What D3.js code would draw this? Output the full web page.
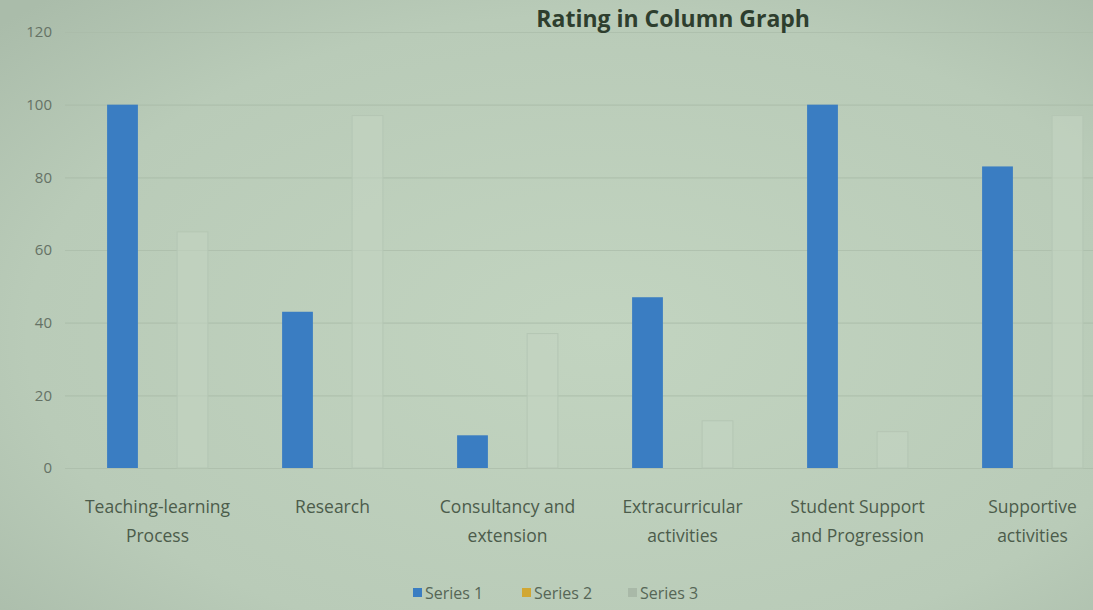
<!DOCTYPE html>
<html>
<head>
<meta charset="utf-8">
<script src="https://cdn.jsdelivr.net/npm/d3@7"></script>
<style>
html,body{margin:0;padding:0;background:#bccebb;}
svg{display:block;}
</style>
</head>
<body>
<svg id="chart" width="1093" height="610"></svg>
<script>
const categories = [
  ["Teaching-learning", "Process"],
  ["Research"],
  ["Consultancy and", "extension"],
  ["Extracurricular", "activities"],
  ["Student Support", "and Progression"],
  ["Supportive", "activities"]
];
const seriesNames = ["Series 1", "Series 2", "Series 3"];
const series1 = [100, 43, 9, 47, 100, 83];
const series2 = [0, 0, 0, 0, 0, 0];
const series3 = [65, 97, 37, 13, 10, 97];
const yTicks = [0, 20, 40, 60, 80, 100, 120];
const titleText = "Rating in Column Graph";

const seriesValues = [series1, series2, series3];
const colors = ["#3a7dc2", "#d1a733", "#c3d4c2"];

const svg = d3.select("#chart");
const W = 1093, H = 610;

const defs = svg.append("defs");
const rg = defs.append("radialGradient").attr("id", "bg").attr("cx", "55%").attr("cy", "55%").attr("r", "75%");
rg.append("stop").attr("offset", "0%").attr("stop-color", "#c2d4c0");
rg.append("stop").attr("offset", "70%").attr("stop-color", "#b9cbb8");
rg.append("stop").attr("offset", "100%").attr("stop-color", "#aabcaa");
svg.append("rect").attr("width", W).attr("height", H).attr("fill", "url(#bg)");

const font = "'Open Sans', Lato, sans-serif";

const y = d3.scaleLinear().domain([0, 120]).range([468, 32]);
const x0 = d3.scaleBand().domain(d3.range(categories.length)).range([70, 1120]).paddingInner(0.4).paddingOuter(0.2);
const x1 = d3.scaleBand().domain(d3.range(seriesNames.length)).range([0, x0.bandwidth()]).paddingInner(0.12).paddingOuter(0.06);

// gridlines
const grid = svg.append("g").attr("transform", "translate(65,0)")
  .call(d3.axisLeft(y).tickValues(yTicks).tickSize(-(W - 65)).tickFormat(""));
grid.select(".domain").remove();
grid.selectAll("line").attr("stroke", "#a9bba8").attr("stroke-width", 1.2).attr("opacity", 0.7);

// y-axis labels
const yAxis = svg.append("g").attr("transform", "translate(52,0)")
  .call(d3.axisLeft(y).tickValues(yTicks).tickSize(0).tickPadding(0));
yAxis.select(".domain").remove();
yAxis.selectAll("text").attr("font-family", font).attr("font-size", 15).attr("fill", "#657265");

// bars
const groups = svg.append("g").selectAll("g").data(categories).join("g")
  .attr("transform", (d, i) => `translate(${x0(i)},0)`);
groups.selectAll("rect").data((d, i) => seriesValues.map((s, k) => ({k, v: s[i]})))
  .join("rect")
  .attr("x", d => x1(d.k))
  .attr("width", x1.bandwidth())
  .attr("y", d => y(d.v))
  .attr("height", d => y(0) - y(d.v))
  .attr("fill", d => colors[d.k])
  .attr("fill-opacity", d => d.k === 2 ? 0.6 : 1)
  .attr("stroke", d => d.k === 2 ? "#b5c6b4" : "none")
  .attr("stroke-width", 1);

// category labels
const xl = svg.append("g");
categories.forEach((lines, i) => {
  const cx = x0(i) + x0.bandwidth() / 2;
  const t = xl.append("text")
    .attr("x", cx).attr("y", 513)
    .attr("text-anchor", "middle")
    .attr("font-family", font).attr("font-size", 17.5).attr("fill", "#4c5c4b");
  lines.forEach((ln, j) => {
    t.append("tspan").attr("x", cx).attr("dy", j === 0 ? 0 : 29).text(ln);
  });
});

// legend
const legend = svg.append("g").attr("transform", "translate(413,599)");
const legX = [0, 109, 215];
seriesNames.forEach((n, k) => {
  const g = legend.append("g").attr("transform", `translate(${legX[k]},0)`);
  g.append("rect").attr("x", 0).attr("y", -11).attr("width", 9).attr("height", 9)
    .attr("fill", k === 2 ? "#a9b9a8" : colors[k]);
  g.append("text").attr("x", 12).attr("y", 0).attr("font-family", font).attr("font-size", 16)
    .attr("fill", "#566656").text(n);
});

// title
svg.append("text").attr("x", 810).attr("y", 27).attr("text-anchor", "end")
  .attr("font-family", font).attr("font-weight", "bold").attr("font-size", 23)
  .attr("fill", "#2e3e2e").text(titleText);
</script>
</body>
</html>
